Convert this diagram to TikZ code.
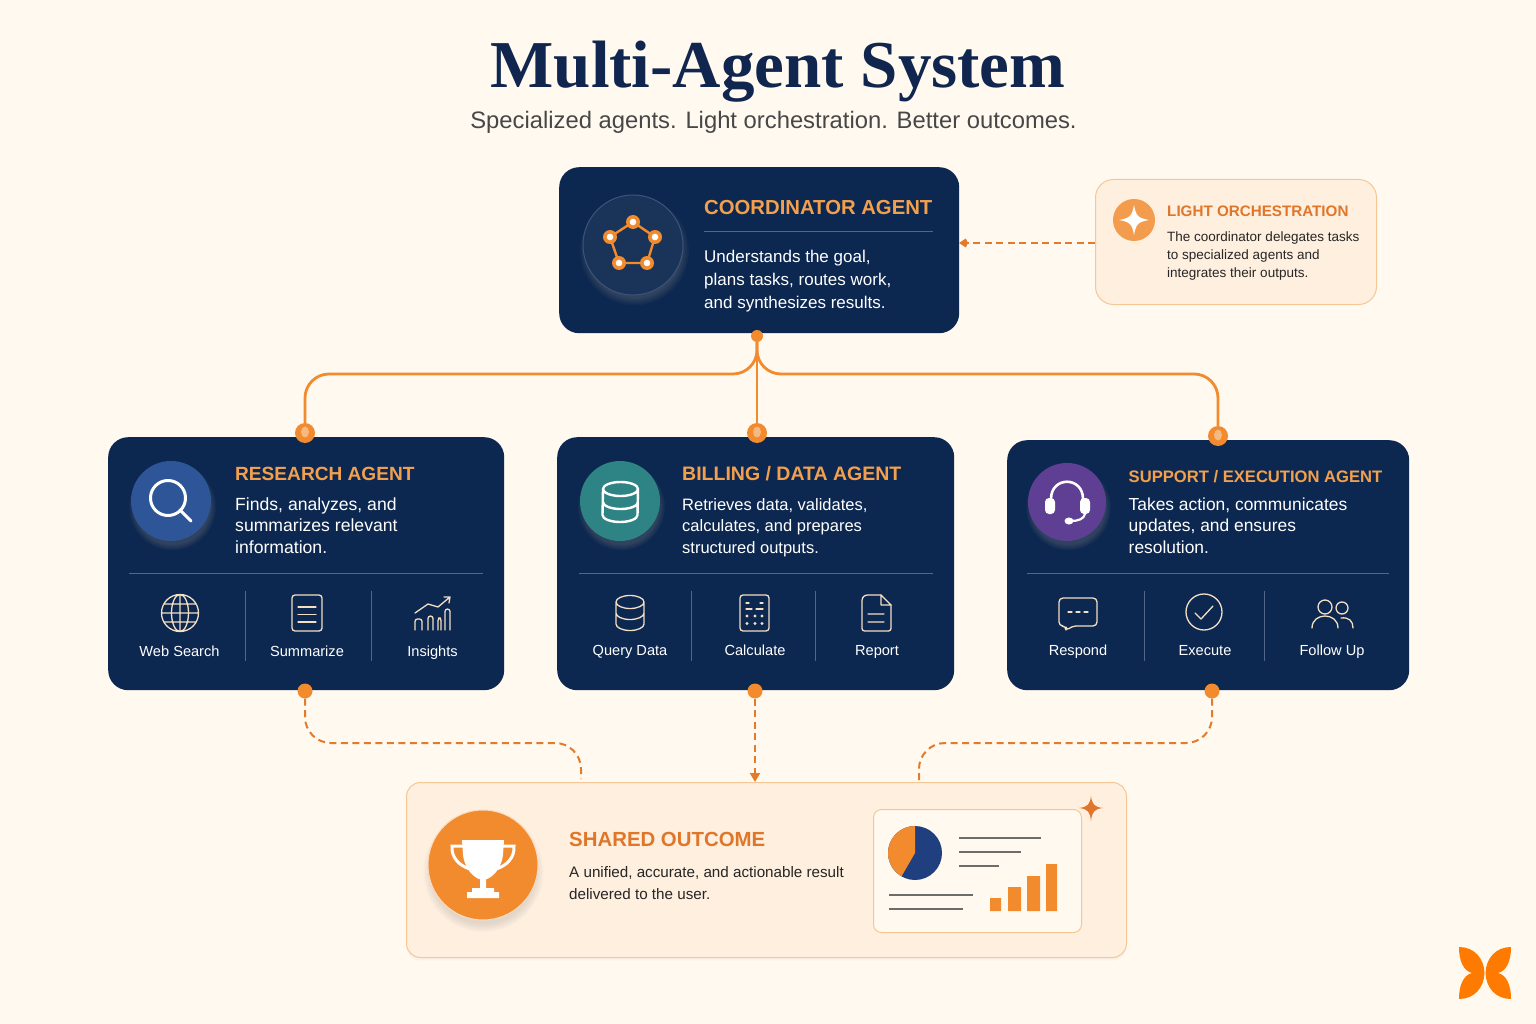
\documentclass[tikz,border=0pt]{standalone}
\usepackage{fontspec}
\setmainfont{Liberation Sans}
\newfontfamily\titlefont{Liberation Serif}
\usetikzlibrary{arrows.meta,shadows,shapes.geometric}
\definecolor{paper}{HTML}{FFF9F0}
\definecolor{navy}{HTML}{0D2850}
\definecolor{navylift}{HTML}{1A3359}
\definecolor{ink}{HTML}{10264F}
\definecolor{amber}{HTML}{F28A2E}
\definecolor{amberhead}{HTML}{F2A04E}
\definecolor{burnt}{HTML}{E0762A}
\definecolor{peach}{HTML}{FEEFDF}
\definecolor{peachline}{HTML}{F6C796}
\definecolor{cream}{HTML}{F3DFC4}
\definecolor{ruleblue}{HTML}{53668A}
\definecolor{logoorange}{HTML}{FF7A00}
\definecolor{resblue}{HTML}{2D5597}
\definecolor{billteal}{HTML}{2E8484}
\definecolor{supppurple}{HTML}{5E3F94}
\definecolor{pieblue}{HTML}{1F3F7F}
\tikzset{
  agentbox/.style={fill=navy, rounded corners=20, anchor=north west, inner sep=0, draw=none},
  softbox/.style={fill=peach, draw=peachline, line width=1, anchor=north west, inner sep=0},
  iconcirc/.style={circle, inner sep=0, minimum size=80, circular drop shadow={shadow xshift=1pt, shadow yshift=-5pt, shadow scale=1.1, opacity=.3}},
  headtxt/.style={anchor=west, inner sep=0, text height=15, text depth=0, text=amberhead, font=\fontsize{19.3}{24}\selectfont\bfseries},
  desctxt/.style={anchor=west, inner sep=0, align=left, text=white, font=\fontsize{17.4}{21.6}\selectfont},
  itemtxt/.style={inner sep=0, text height=12.5, text depth=2.5, text=white, font=\fontsize{14.6}{17}\selectfont},
  thinrule/.style={ruleblue, line width=.9},
  itemicon/.style={cream, line width=1.3, line cap=round, line join=round},
  whiteicon/.style={white, line width=3, line cap=round, line join=round},
  flow/.style={amber, line width=2.8},
  dashflow/.style={burnt!80!amber, line width=2, dash pattern=on 7pt off 4.5pt},
  inport/.style={circle, fill=amber, inner sep=0, minimum size=20},
  outport/.style={circle, fill=amber, inner sep=0, minimum size=15},
  cardline/.style={gray!85!black, line width=1.6}
}
\begin{document}
\begin{tikzpicture}[x=1pt,y=-1pt]
\useasboundingbox[fill=paper] (0,0) rectangle (1536,1024);

% heading
\node[inner sep=0, text=ink, font=\fontsize{67}{70}\selectfont\titlefont\bfseries] (maintitle) at (778,72) {Multi-Agent System};
\node[inner sep=0, text=black!72, font=\fontsize{23.8}{27}\selectfont] (subtitle) at (773.5,122) {Specialized agents. Light orchestration. Better outcomes.};

% boxes
\node[agentbox, minimum width=400, minimum height=166] (coordbox) at (559,167) {};
\node[softbox, rounded corners=18, minimum width=281, minimum height=125] (lightbox) at (1095,179) {};
\node[agentbox, minimum width=396, minimum height=253] (resbox) at (108,437) {};
\node[agentbox, minimum width=397, minimum height=253] (billbox) at (557,437) {};
\node[agentbox, minimum width=402, minimum height=250] (suppbox) at (1007,440) {};
\node[softbox, rounded corners=14, minimum width=720, minimum height=175, drop shadow={opacity=.05, shadow xshift=0pt, shadow yshift=-3pt}] (outbox) at (406,782) {};

% connector ports
\node[circle, fill=amber, inner sep=0, minimum size=12] (coordport) at (757,336) {};
\node[inport] (resport) at (305,433) {};
\node[inport] (billport) at (757,433) {};
\node[inport] (suppport) at (1218,436) {};
\node[outport] (resout) at (305,691) {};
\node[outport] (billout) at (755,691) {};
\node[outport] (suppout) at (1212,691) {};
\coordinate (busrow) at (0,374);
\coordinate (lowrow) at (0,743);
\coordinate (leftend) at (581,779);
\coordinate (rightend) at (919,781);
\coordinate (billend) at (755,782);
\coordinate (lightend) at (1095,243);
\coordinate (coordend) at (959,243);

% connectors
\draw[flow, rounded corners=24] (coordport) -- (coordport |- busrow) -- (resport |- busrow) -- (resport);
\draw[flow, rounded corners=24] (coordport) -- (coordport |- busrow) -- (suppport |- busrow) -- (suppport);
\draw[flow] (coordport) -- (billport);
\draw[dashflow, rounded corners=26] (resout) -- (resout |- lowrow) -- (leftend |- lowrow) -- (leftend);
\draw[dashflow, rounded corners=26] (suppout) -- (suppout |- lowrow) -- (rightend |- lowrow) -- (rightend);
\draw[dashflow, -{Triangle[length=9pt,width=10pt]}] (billout) -- (billend);
\draw[dashflow, -{Kite[length=9pt,width=9pt]}] (lightend) -- (coordend);

% port highlights
\fill[white!40!amber] (305,432) ellipse (4 and 5.5);
\fill[white!40!amber] (757,432) ellipse (4 and 5.5);
\fill[white!40!amber] (1218,435) ellipse (4 and 5.5);

% coordinator
\node[iconcirc, minimum size=100, fill=navylift, draw=ruleblue!70!navy, line width=1] (coordicon) at (633,245) {};
\draw[amber, line width=2.4, line join=round] (633,222) -- (655,237) -- (647,263) -- (619,263) -- (610,237) -- cycle;
\fill[amber] (633,222) circle (7) (655,237) circle (7) (647,263) circle (7) (619,263) circle (7) (610,237) circle (7);
\fill[white] (633,222) circle (3.3) (655,237) circle (3.3) (647,263) circle (3.3) (619,263) circle (3.3) (610,237) circle (3.3);
\node[headtxt, font=\fontsize{20.3}{24}\selectfont\bfseries] (coordtitle) at (704,207) {COORDINATOR AGENT};
\draw[thinrule] (704,231) -- (933,231);
\node[desctxt, font=\fontsize{17}{23}\selectfont] (coorddesc) at (704,281) {Understands the goal,\\plans tasks, routes work,\\and synthesizes results.};

% light orchestration
\node[circle, inner sep=0, minimum size=42, fill=amber!85!white] (lighticon) at (1134,220) {};
\fill[white] (1134,205) .. controls (1136,216) and (1138,218) .. (1149,220) .. controls (1138,222) and (1136,224) .. (1134,235) .. controls (1132,224) and (1130,222) .. (1119,220) .. controls (1130,218) and (1132,216) .. (1134,205) -- cycle;
\node[headtxt, text height=12, text=burnt, font=\fontsize{15.2}{20}\selectfont\bfseries] (lighttitle) at (1167,211) {LIGHT ORCHESTRATION};
\node[desctxt, text=black!85, font=\fontsize{13.5}{18}\selectfont] (lightdesc) at (1167,256) {The coordinator delegates tasks\\to specialized agents and\\integrates their outputs.};

% research agent
\node[iconcirc, fill=resblue] (resicon) at (171,501) {};
\draw[whiteicon] (168,498) circle (17.5) (180,510) -- (191,521);
\node[headtxt, font=\fontsize{19.1}{24}\selectfont\bfseries] (restitle) at (235,473) {RESEARCH AGENT};
\node[desctxt, font=\fontsize{17.6}{21.6}\selectfont] (resdesc) at (235,525.5) {Finds, analyzes, and\\summarizes relevant\\information.};
\draw[thinrule] (129,573) -- (483,573);
\draw[thinrule] (245,591) -- (245,661);
\draw[thinrule] (371,591) -- (371,661);
\draw[itemicon] (180,613) circle (18.5) (180,613) ellipse (8.5 and 18.5) (161.5,613) -- (198.5,613) (180,594.5) -- (180,631.5) (164,604) -- (196,604) (164,622) -- (196,622);
\draw[itemicon, rounded corners=3] (292,595) rectangle (322,631);
\draw[itemicon] (298,607) -- (316,607) (298,614.5) -- (316,614.5) (298,622) -- (316,622);
\draw[itemicon] (415,613) -- (428,604) -- (438,607) -- (450,597) (444,597) -- (450,597) -- (449,603);
\draw[itemicon, rounded corners=2.5] (415,630) -- (415,619) -- (422,619) -- (422,630) (428,630) -- (428,616) -- (433,616) -- (433,630) (438,630) -- (438,618) -- (441,618) -- (441,630) (445,630) -- (445,609) -- (450,609) -- (450,630);
\node[itemtxt] (websearch) at (179.5,651) {Web Search};
\node[itemtxt] (summarize) at (307,651) {Summarize};
\node[itemtxt] (insights) at (432.5,651) {Insights};

% billing agent
\node[iconcirc, fill=billteal] (billicon) at (620,501) {};
\draw[white, line width=2.4] (603,489) arc (180:360:17.5 and 7) -- (637.5,515) arc (0:180:17.5 and 7) -- cycle (603,489) arc (180:0:17.5 and 7) (603,502) arc (180:0:17.5 and 7);
\node[headtxt, font=\fontsize{19.5}{24}\selectfont\bfseries] (billtitle) at (682,473) {BILLING / DATA AGENT};
\node[desctxt, font=\fontsize{16.5}{21.6}\selectfont] (billdesc) at (682,527.5) {Retrieves data, validates,\\calculates, and prepares\\structured outputs.};
\draw[thinrule] (579,573) -- (933,573);
\draw[thinrule] (691.5,591) -- (691.5,661);
\draw[thinrule] (815.5,591) -- (815.5,661);
\draw[itemicon] (616,602) arc (180:360:14 and 6.5) -- (644,624) arc (0:180:14 and 6.5) -- cycle (616,602) arc (180:0:14 and 6.5) (616,613) arc (180:0:14 and 6.5);
\draw[itemicon, rounded corners=3] (740,595) rectangle (769,631);
\draw[itemicon] (746,603) -- (749,603) (760,603) -- (763,603) (746,609) -- (752,609) (756,609) -- (763,609);
\fill[cream] (747,616) circle (1.6) (755,616) circle (1.6) (762,616) circle (1.6) (747,623.5) circle (1.6) (755,623.5) circle (1.6) (762,623.5) circle (1.6);
\draw[itemicon, rounded corners=2.5] (881,595) -- (865,595) -- (862,598) -- (862,631) -- (891,631) -- (891,605);
\draw[itemicon] (881,595) -- (891,605) -- (881,605) -- cycle (868,614) -- (884,614) (868,622) -- (884,622);
\node[itemtxt] (querydata) at (630,650) {Query Data};
\node[itemtxt] (calculate) at (755,650) {Calculate};
\node[itemtxt] (report) at (877,650) {Report};

% support agent
\node[iconcirc, minimum size=78, fill=supppurple] (suppicon) at (1067,502) {};
\draw[white, line width=2.6, line cap=round] (1051,499) .. controls (1051,476) and (1083,476) .. (1083,499);
\fill[white, rounded corners=4] (1045,498) rectangle (1055,514) (1080,498) rectangle (1090,514);
\draw[white, line width=2.2, line cap=round] (1085,514) .. controls (1084,519) and (1078,521) .. (1071,521);
\fill[white] (1069,521) ellipse (4.5 and 3.5);
\node[headtxt, font=\fontsize{16.6}{22}\selectfont\bfseries] (supptitle) at (1128.5,475) {SUPPORT / EXECUTION AGENT};
\node[desctxt] (suppdesc) at (1128.5,525.5) {Takes action, communicates\\updates, and ensures\\resolution.};
\draw[thinrule] (1027,573) -- (1389,573);
\draw[thinrule] (1144.5,591) -- (1144.5,661);
\draw[thinrule] (1264.5,591) -- (1264.5,661);
\draw[itemicon, rounded corners=4] (1066,626) -- (1066,631) -- (1072,626) -- (1097,626) -- (1097,598) -- (1059,598) -- (1059,626) -- cycle;
\draw[itemicon] (1068,612) -- (1072,612) (1076,612) -- (1080,612) (1084,612) -- (1088,612);
\draw[itemicon] (1204,612) circle (18) (1195,613) -- (1201,619) -- (1213,606);
\draw[itemicon] (1325,607) circle (7) (1342,608) circle (6);
\draw[itemicon] (1312,628) .. controls (1312,612) and (1338,612) .. (1338,628);
\draw[itemicon] (1341,618) .. controls (1349,617) and (1353,621) .. (1353,628);
\node[itemtxt] (respond) at (1078,650) {Respond};
\node[itemtxt] (execute) at (1205,650) {Execute};
\node[itemtxt] (followup) at (1332,650) {Follow Up};

% shared outcome
\node[circle, inner sep=0, minimum size=110, fill=amber, draw=white!70!amber, line width=1, circular drop shadow={shadow xshift=0pt, shadow yshift=-6pt, shadow scale=1.1, opacity=.22}] (outicon) at (483,865) {};
\draw[white, line width=3] (463,846) -- (452,846) .. controls (451,858) and (460,866) .. (470,869);
\draw[white, line width=3] (503,846) -- (514,846) .. controls (515,858) and (506,866) .. (496,869);
\fill[white] (462,840) -- (504,840) -- (503,855) .. controls (501,870) and (492,877) .. (487,879) -- (479,879) .. controls (474,877) and (465,870) .. (463,855) -- cycle;
\fill[white] (480,878) rectangle (486,890) (472,888) rectangle (494,893) (467,892) rectangle (499,898);
\node[headtxt, text=burnt, font=\fontsize{20.4}{25}\selectfont\bfseries] (outtitle) at (569,839) {SHARED OUTCOME};
\node[desctxt, text=black!85, font=\fontsize{15.2}{22}\selectfont] (outdesc) at (569,883) {A unified, accurate, and actionable result\\delivered to the user.};

% result card
\node[softbox, fill=paper, rounded corners=8, minimum width=208, minimum height=123] (resultcard) at (873,809) {};
\fill[pieblue] (915,853) circle (27);
\fill[amber] (915,853) -- (915,826) arc (270:120:27) -- cycle;
\draw[cardline] (959,838) -- (1041,838) (959,852) -- (1021,852) (959,866) -- (999,866) (889,895) -- (973,895) (889,909) -- (963,909);
\fill[amber] (990,898) rectangle (1001,911) (1008,887) rectangle (1021,911) (1027,876) rectangle (1040,911) (1046,864) rectangle (1057,911);
\fill[burnt] (1091,796) .. controls (1092,804) and (1094,807) .. (1103,808) .. controls (1094,809) and (1092,812) .. (1091,821) .. controls (1090,812) and (1088,809) .. (1079,808) .. controls (1088,807) and (1090,804) .. (1091,796) -- cycle;

% corner mark
\fill[logoorange] (1459,947) .. controls (1474,947) and (1484,958) .. (1484.5,973) -- (1472,973) .. controls (1464,971) and (1459,962) .. (1459,947) -- cycle;
\fill[logoorange] (1459,999) .. controls (1474,999) and (1484,988) .. (1484.5,973) -- (1472,973) .. controls (1464,975) and (1459,984) .. (1459,999) -- cycle;
\fill[logoorange] (1511,947) .. controls (1496,947) and (1486,958) .. (1485.5,973) -- (1498,973) .. controls (1506,971) and (1511,962) .. (1511,947) -- cycle;
\fill[logoorange] (1511,999) .. controls (1496,999) and (1486,988) .. (1485.5,973) -- (1498,973) .. controls (1506,975) and (1511,984) .. (1511,999) -- cycle;
\end{tikzpicture}
\end{document}
